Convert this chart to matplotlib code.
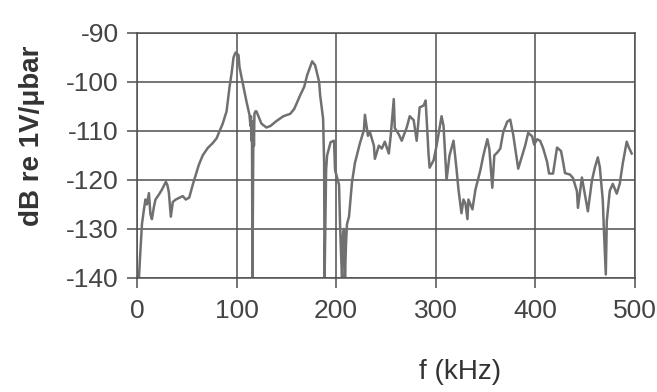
import matplotlib
matplotlib.use("Agg")
import matplotlib.pyplot as plt

# frequency (kHz) and level (dB re 1V/ubar)
freq = [2, 3, 5, 7, 8.5, 10, 12, 13.5, 15, 17, 18.6, 22, 25, 29, 30.5, 32, 34,
        36, 39, 42, 46, 49, 52.5, 56, 59, 62, 66, 71, 76, 80, 83, 86, 90, 93,
        95, 97, 99, 102, 103, 107, 110, 113, 114, 114.5, 115, 115.5, 116, 117,
        117.5, 118, 119, 120, 122, 125, 130, 134, 140, 147, 154, 158, 164, 168,
        171, 176, 179, 183, 184, 187, 188, 188.5, 190, 191, 194.5, 198, 199,
        203, 204, 205, 206, 207, 208, 209, 210, 211, 213, 216, 219, 224, 228,
        229, 232, 234, 238, 239, 243, 246, 249, 253, 255, 258, 259, 263, 266,
        271, 274, 278, 281, 284, 288, 290, 293, 294, 298, 301, 306, 308, 311,
        314, 318, 321, 323, 326, 328, 330, 332, 333, 337, 340, 345, 348, 352,
        354, 357, 359, 362, 365, 368, 372, 375, 378, 381, 383, 387, 390, 393,
        397, 399, 402, 405, 408, 412, 414, 418, 422, 426, 428, 430, 435, 438,
        442, 443, 447, 450, 453, 457, 460, 463, 465, 468, 469, 471, 472, 475,
        478, 482, 485, 488, 492, 494, 497]
level = [-140, -136, -129, -126, -124, -125, -122.7, -127, -128, -125.5, -124,
         -123, -122, -120.4, -121, -122.5, -127.5, -124.5, -124, -123.7,
         -123.3, -124, -123.6, -121, -119, -117, -115, -113.5, -112.5, -111.5,
         -110, -108.6, -106, -101, -98.3, -95, -94, -94.5, -97, -101, -104,
         -106.7, -109, -107, -112, -108, -140, -108, -113, -106.5, -106, -106,
         -107, -108.5, -109.3, -109, -108, -107, -106.5, -105.5, -102.7, -101,
         -98.6, -95.8, -96.6, -100, -102.7, -107.5, -116.5, -140, -118, -115,
         -112.3, -112, -118, -121, -129, -135, -140, -131, -130, -140, -133,
         -129, -127.5, -120.5, -116.5, -112.5, -109.8, -106.7, -111, -110.2,
         -113, -115.7, -113, -113.6, -112.2, -114.6, -110.8, -103.5, -109.4,
         -110.7, -112, -109.3, -107, -107.8, -112, -105.2, -104.8, -103.8, -115,
         -117.5, -116, -113, -107, -109, -120, -115, -112, -117.7, -122, -126.8,
         -124, -124.8, -128, -124, -126, -122, -118, -115, -111.7, -113.7,
         -121.6, -115, -114.4, -113.6, -110.2, -108.1, -107.7, -110.8, -115,
         -117.7, -115, -113, -110.4, -111.1, -112.8, -111.7, -112, -113.5,
         -116.3, -118.7, -118.7, -113.4, -114.1, -116.2, -118.6, -118.9, -119.6,
         -122.3, -125.7, -119.5, -123, -126.4, -120.2, -117.5, -115.4, -117.4,
         -124.2, -129.7, -139.3, -128.4, -122.2, -120.8, -122.8, -120.8, -116.7,
         -112.2, -113.3, -114.6]

x_ticks = [0, 100, 200, 300, 400, 500]
y_ticks = [-140, -130, -120, -110, -100, -90]

plt.rcParams["font.family"] = ["Liberation Sans", "DejaVu Sans"]
plt.rcParams["axes.unicode_minus"] = False

fig = plt.figure(figsize=(6.57, 3.92), dpi=100)
ax = fig.add_axes([0.2085, 0.291, 0.7575, 0.625])

ax.plot(freq, level, color="#707070", lw=1.8)

ax.set_xlim(0, 500)
ax.set_ylim(-140, -90)
ax.set_xticks(x_ticks)
ax.set_yticks(y_ticks)
ax.grid(True, color="#505050", lw=1.1)
ax.set_axisbelow(True)
for s in ax.spines.values():
    s.set_color("#505050")
    s.set_linewidth(1.1)

ax.tick_params(axis="both", colors="#505050", labelcolor="#444444",
               labelsize=19, length=7, width=1.1)
ax.tick_params(axis="x", pad=8)
ax.tick_params(axis="y", pad=6)

ax.set_ylabel("dB re 1V/\u03bcbar", fontsize=20, fontweight="bold",
              color="#333333")
ax.yaxis.set_label_coords(-0.185, 0.58)
ax.set_xlabel("f (kHz)", fontsize=20, color="#333333")
ax.xaxis.set_label_coords(0.65, -0.33)

fig.savefig("out.png", dpi=100)
